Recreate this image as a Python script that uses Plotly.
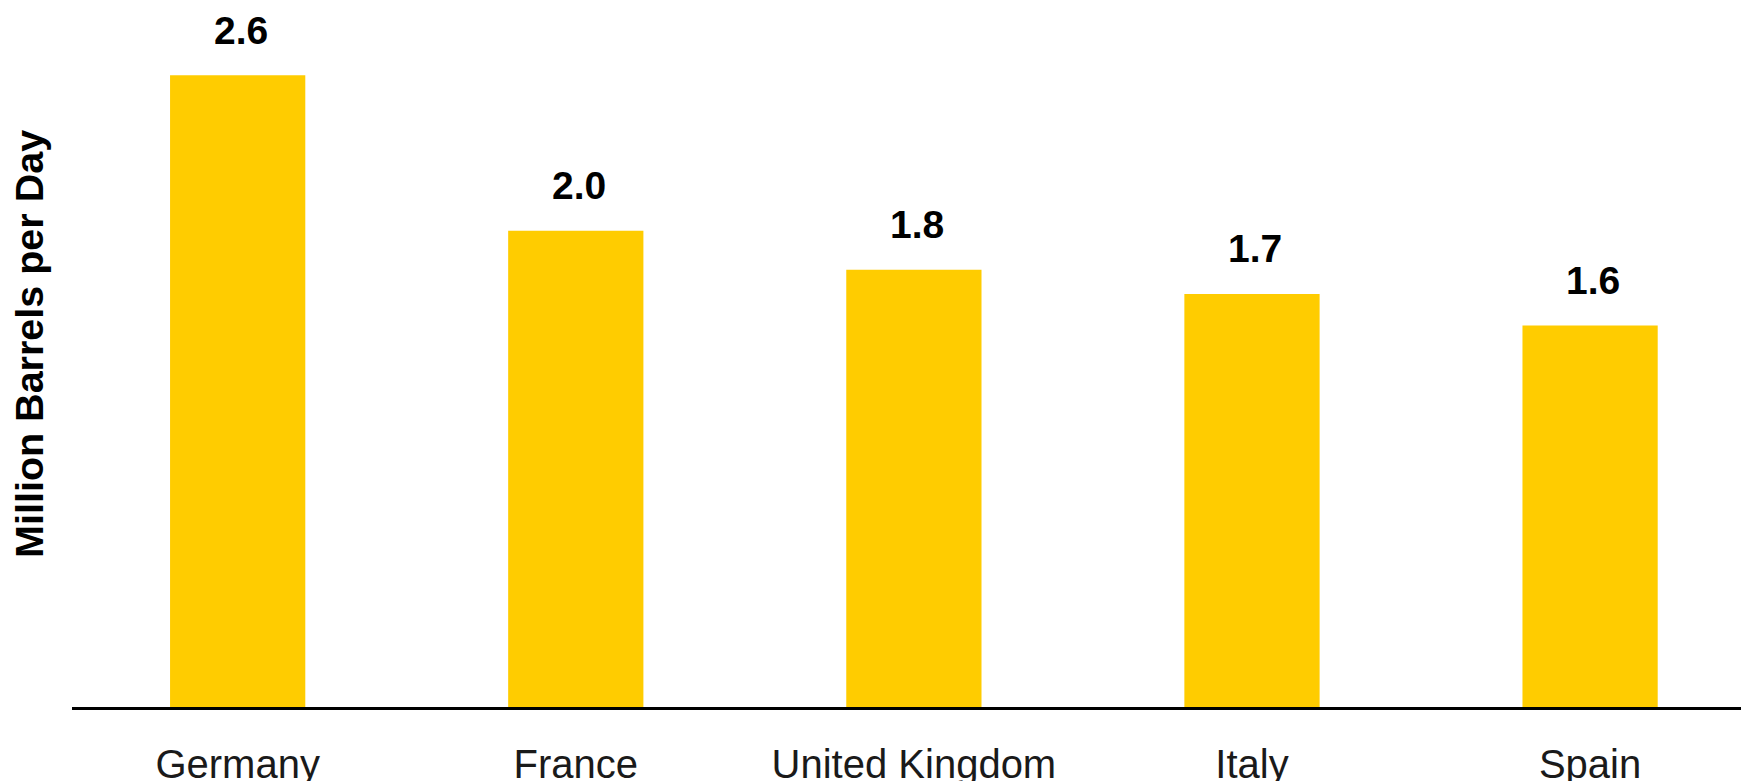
import plotly.graph_objects as go

countries = ["Germany", "France", "United Kingdom", "Italy", "Spain"]
consumption = [2.60, 1.96, 1.80, 1.70, 1.57]
value_labels = ["2.6", "2.0", "1.8", "1.7", "1.6"]
y_title = "Million Barrels per Day"

BAR_COLOR = "#FFCC00"
FONT = "Liberation Sans, Arial, sans-serif"

fig = go.Figure()
fig.add_trace(go.Bar(
    x=countries,
    y=consumption,
    marker=dict(color=BAR_COLOR, line=dict(width=0)),
    width=0.40,
    hoverinfo="x+y",
))

annotations = []
for c, v, lab in zip(countries, consumption, value_labels):
    annotations.append(dict(
        x=c, y=v, xref="x", yref="y", text="<b>%s</b>" % lab,
        showarrow=False, yanchor="middle", xanchor="center", yshift=45, xshift=3,
        font=dict(family=FONT, size=39, color="#000000"),
    ))
annotations.append(dict(
    x=-0.026, y=0.52, xref="paper", yref="paper", text="<b>%s</b>" % y_title,
    showarrow=False, textangle=-90, xanchor="center", yanchor="middle",
    font=dict(family=FONT, size=39.5, color="#000000"),
))

fig.update_layout(
    width=1749, height=781,
    margin=dict(l=64, r=8, t=0, b=82, pad=0, autoexpand=False),
    paper_bgcolor="white", plot_bgcolor="white",
    showlegend=False,
    bargap=0.6,
    annotations=annotations,
    xaxis=dict(
        range=[-0.49, 4.47],
        automargin=False,
        showgrid=False, zeroline=False,
        showline=True, linecolor="#000000", linewidth=3,
        ticks="outside", ticklen=20, tickcolor="rgba(0,0,0,0)",
        tickfont=dict(family=FONT, size=40, color="#1a1a1a"),
    ),
    yaxis=dict(
        range=[0, 2.877],
        automargin=False,
        showgrid=False, zeroline=False, showline=False,
        showticklabels=False, ticks="",
    ),
)

fig.write_html("out.html")
